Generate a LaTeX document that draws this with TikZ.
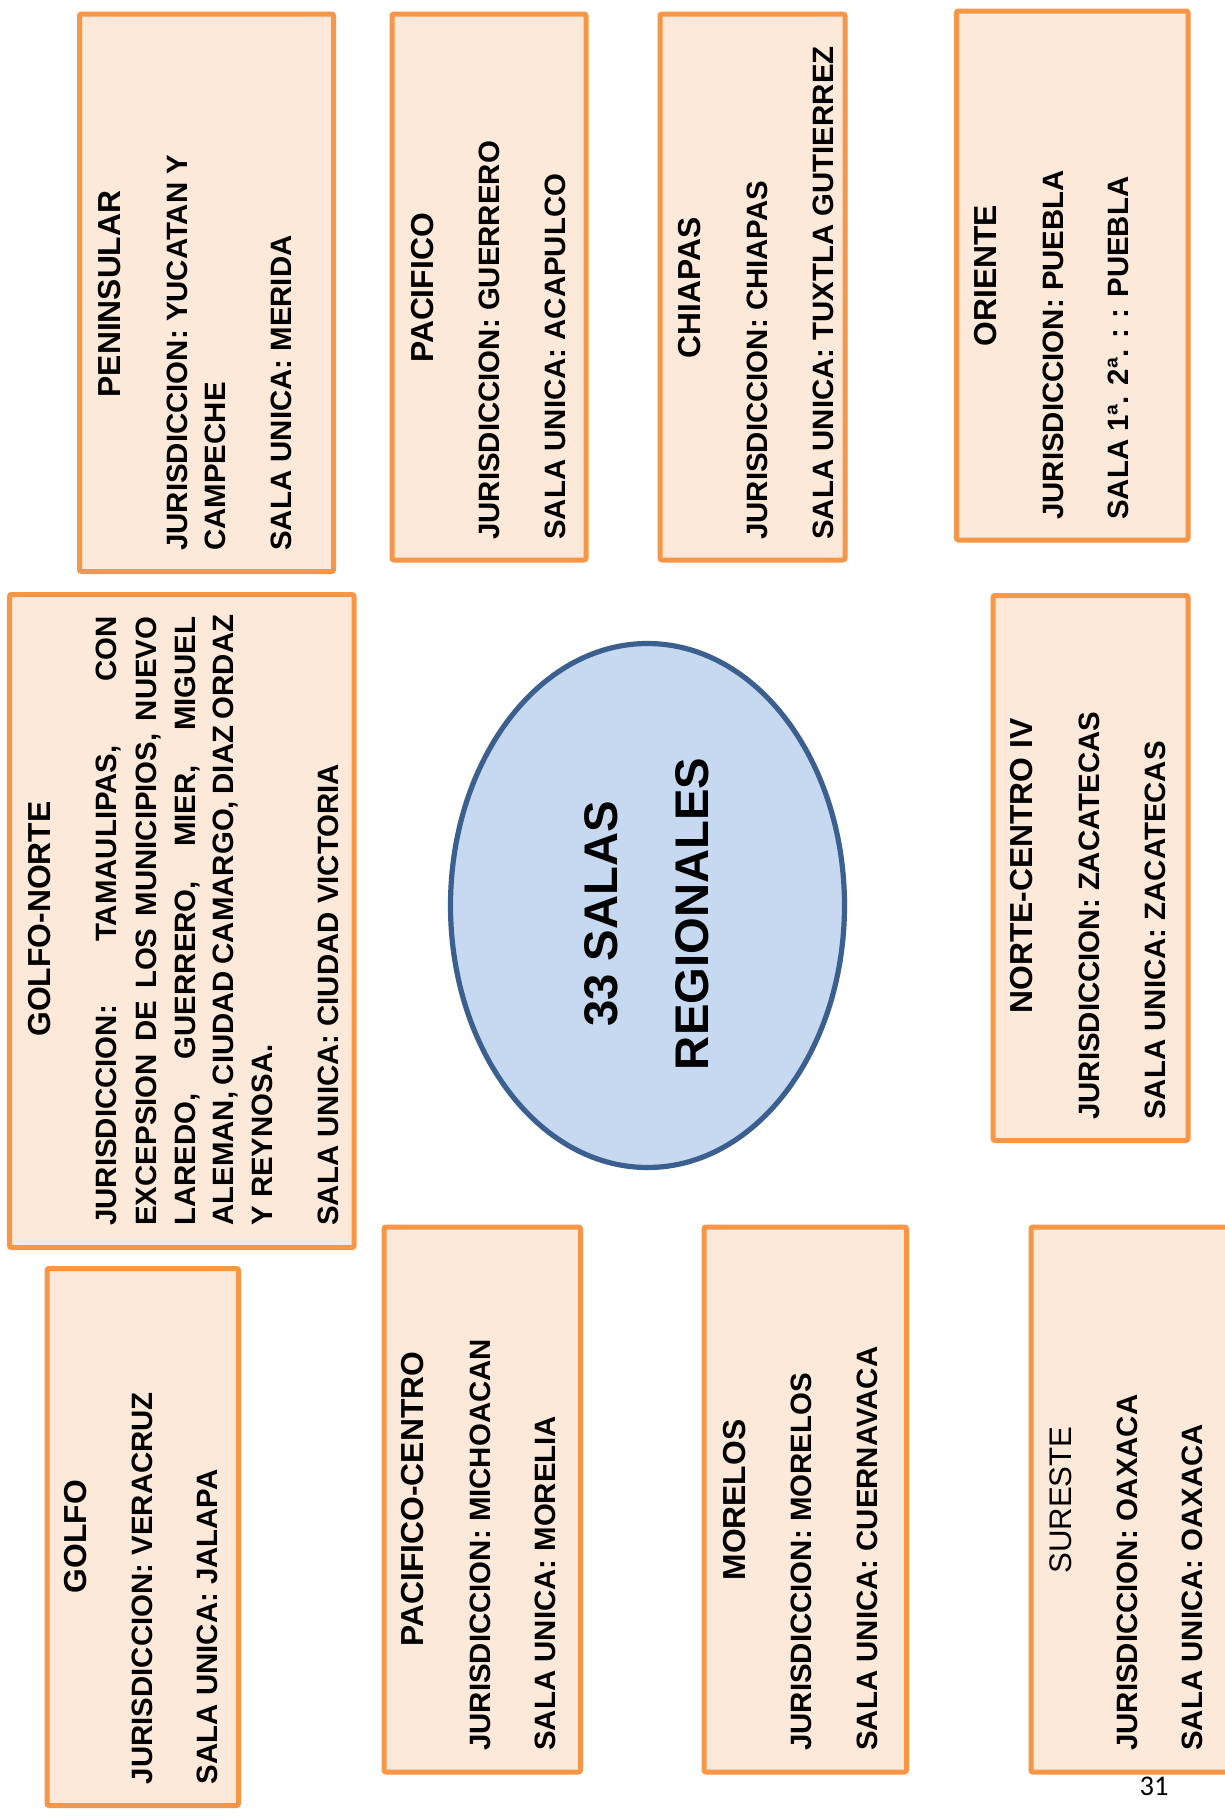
\documentclass[tikz,border=0pt]{standalone}
\usepackage{fontspec}
\setmainfont{Liberation Sans}
\newfontfamily\pagefont{Carlito}
\usetikzlibrary{shapes.geometric}
\definecolor{boxfill}{HTML}{FDE9D9}
\definecolor{boxline}{HTML}{F79646}
\definecolor{ovalfill}{HTML}{C6D9F1}
\definecolor{ovalline}{HTML}{3B5F8F}
\begin{document}
\begin{tikzpicture}[x=0.5pt,y=-0.5pt,
  regbox/.style={draw=boxline, fill=boxfill, line width=2.5pt, rectangle, inner sep=0pt, rounded corners=1pt},
  ttl/.style={rotate=90, anchor=base, inner sep=0pt, font=\fontsize{15.9pt}{18pt}\selectfont\bfseries},
  ttlreg/.style={rotate=90, anchor=base, inner sep=0pt, font=\fontsize{15.6pt}{18pt}\selectfont},
  bod/.style={rotate=90, anchor=base west, inner sep=0pt, font=\fontsize{14.7pt}{17pt}\selectfont\bfseries},
  bigtxt/.style={rotate=90, anchor=base, inner sep=0pt, font=\fontsize{23.6pt}{28pt}\selectfont\bfseries},
  oval/.style={ellipse, draw=ovalline, fill=ovalfill, line width=2.6pt, inner sep=0pt}]
\useasboundingbox (0,0) rectangle (1225,1817);
\fill[white] (0,0) rectangle (1225,1817);

% boxes
\node[regbox, minimum width=127pt, minimum height=278.75pt] (pen) at (206.5,292.75) {};
\node[regbox, minimum width=97pt, minimum height=273pt] (pac) at (489,287) {};
\node[regbox, minimum width=92.5pt, minimum height=273pt] (chi) at (752.5,287) {};
\node[regbox, minimum width=115.75pt, minimum height=264.5pt] (ori) at (1072.25,275.5) {};
\node[regbox, minimum width=172.25pt, minimum height=326.5pt] (gno) at (181.75,921) {};
\node[regbox, minimum width=97.5pt, minimum height=272.5pt] (nci) at (1090.5,868) {};
\node[regbox, minimum width=95.75pt, minimum height=268.5pt] (gol) at (142.75,1537) {};
\node[regbox, minimum width=98.25pt, minimum height=272.5pt] (pce) at (482.25,1499.5) {};
\node[regbox, minimum width=101.25pt, minimum height=272.5pt] (mor) at (805.25,1499.5) {};
\node[regbox, minimum width=100pt, minimum height=272.5pt] (sur) at (1131,1499.5) {};

% centre
\node[oval, minimum width=197pt, minimum height=262pt] (centro) at (647.5,905.5) {};
\node[bigtxt] (c1) at (617.5,914) {33 SALAS};
\node[bigtxt] (c2) at (708,914) {REGIONALES};

% PENINSULAR
\node[ttl] (penT) at (120.6,294) {PENINSULAR};
\node[bod] (penA) at (187,551) {JURISDICCION: YUCATAN Y};
\node[bod] (penB) at (225,551) {CAMPECHE};
\node[bod] (penC) at (291,551) {SALA UNICA: MERIDA};

% PACIFICO
\node[ttl] (pacT) at (433,288) {PACIFICO};
\node[bod] (pacA) at (499,540) {JURISDICCION: GUERRERO};
\node[bod] (pacB) at (565,540) {SALA UNICA: ACAPULCO};

% CHIAPAS
\node[ttl] (chiT) at (700.4,288) {CHIAPAS};
\node[bod] (chiA) at (767.4,540) {JURISDICCION: CHIAPAS};
\node[bod] (chiB) at (833,540) {SALA UNICA: TUXTLA GUTIERREZ};

% ORIENTE
\node[ttl] (oriT) at (996.6,275.5) {ORIENTE};
\node[bod] (oriA) at (1063,520) {JURISDICCION: PUEBLA};
\node[bod] (oriB) at (1128,520) {SALA 1ª. 2ª. : : PUEBLA};

% GOLFO-NORTE
\node[ttl] (gnoT) at (50.6,919) {GOLFO-NORTE};
\node[bod] (gnoA) at (116.6,1226) {\hbox to 304.5pt{JURISDICCION: TAMAULIPAS, CON}};
\node[bod] (gnoB) at (156,1226) {\hbox to 304.5pt{EXCEPSION DE LOS MUNICIPIOS, NUEVO}};
\node[bod] (gnoC) at (195,1226) {\hbox to 304.5pt{LAREDO, GUERRERO, MIER, MIGUEL}};
\node[bod] (gnoD) at (233.5,1226) {\hbox to 305.5pt{ALEMAN, CIUDAD CAMARGO, DIAZ ORDAZ}};
\node[bod] (gnoE) at (272,1226) {Y REYNOSA.};
\node[bod] (gnoF) at (338,1226) {SALA UNICA: CIUDAD VICTORIA};

% NORTE-CENTRO IV
\node[ttl] (nciT) at (1032.4,866) {NORTE-CENTRO IV};
\node[bod] (nciA) at (1099,1120) {JURISDICCION: ZACATECAS};
\node[bod] (nciB) at (1165,1120) {SALA UNICA: ZACATECAS};

% GOLFO
\node[ttl] (golT) at (86.2,1536.5) {GOLFO};
\node[bod] (golA) at (152.2,1784.4) {JURISDICCION: VERACRUZ};
\node[bod] (golB) at (217.5,1784.4) {SALA UNICA: JALAPA};

% PACIFICO-CENTRO
\node[ttl] (pceT) at (423.9,1499) {PACIFICO-CENTRO};
\node[bod] (pceA) at (490.3,1751) {JURISDICCION: MICHOACAN};
\node[bod] (pceB) at (555.5,1751) {SALA UNICA: MORELIA};

% MORELOS
\node[ttl] (morT) at (745.5,1500) {MORELOS};
\node[bod] (morA) at (811.2,1751) {JURISDICCION: MORELOS};
\node[bod] (morB) at (877,1751) {SALA UNICA: CUERNAVACA};

% SURESTE
\node[ttlreg] (surT) at (1071,1500) {SURESTE};
\node[bod] (surA) at (1137,1751) {JURISDICCION: OAXACA};
\node[bod] (surB) at (1202.6,1751) {SALA UNICA: OAXACA};

% page number
\node[anchor=base, inner sep=0pt, font=\pagefont\fontsize{14.25pt}{17pt}\selectfont] (pagenum) at (1154,1795) {31};
\end{tikzpicture}
\end{document}
